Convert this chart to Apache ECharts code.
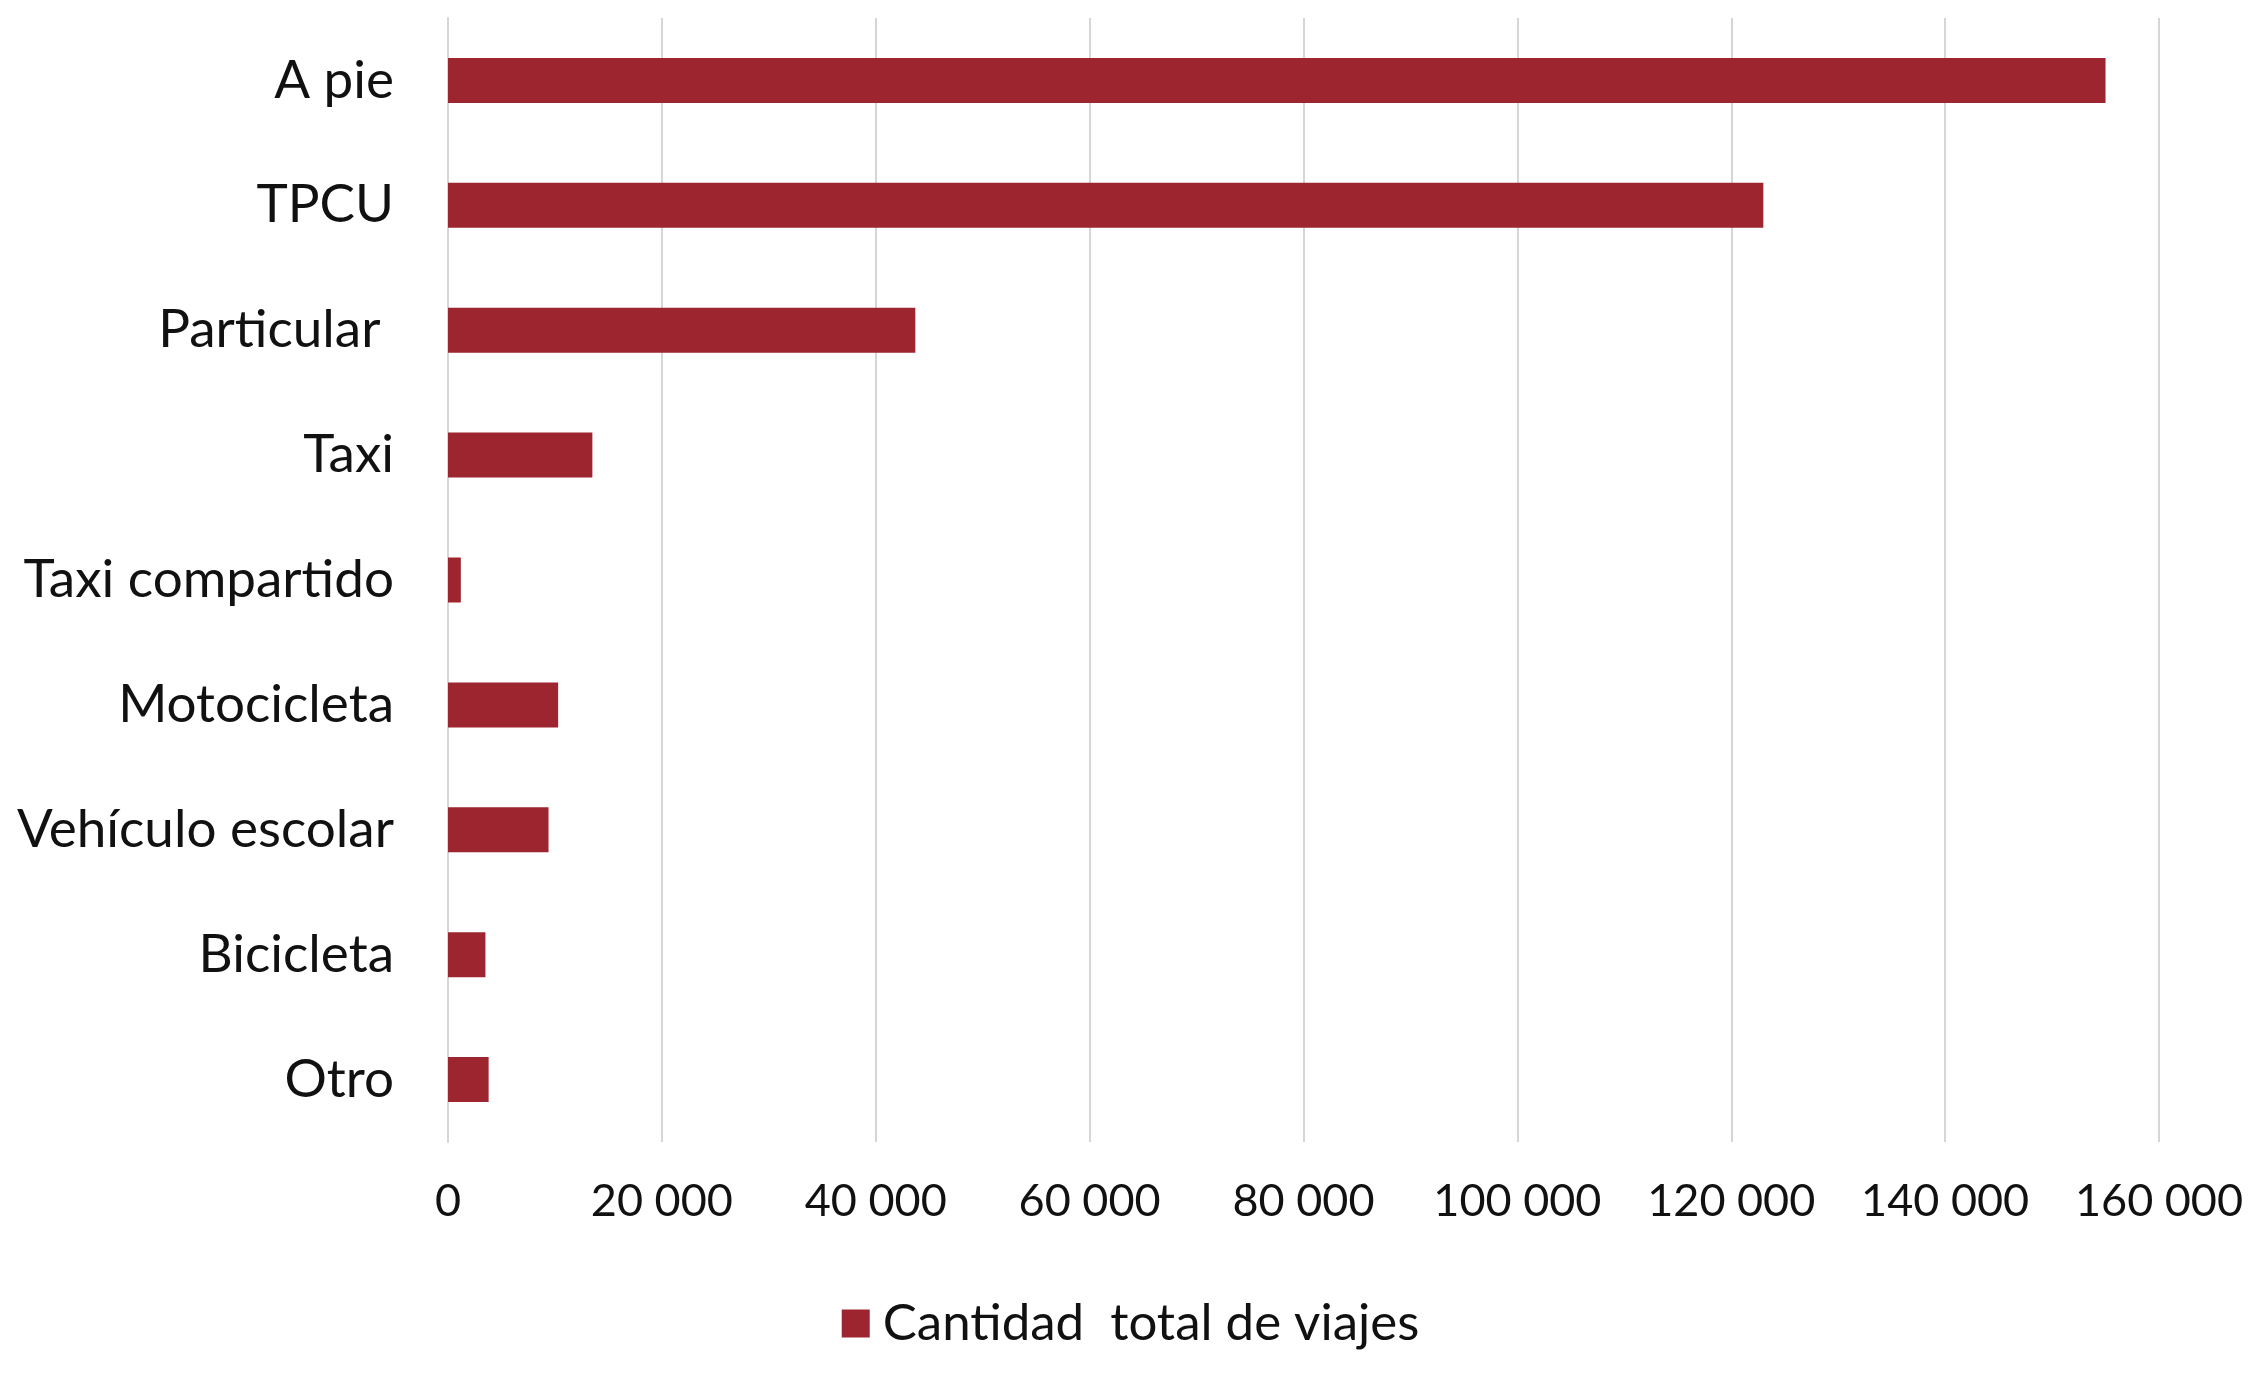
<!DOCTYPE html>
<html>
<head>
<meta charset="utf-8">
<script src="https://cdn.jsdelivr.net/npm/echarts@6/dist/echarts.min.js"></script>
<style>
html,body{margin:0;padding:0;background:#fff;}
#chart{width:2261px;height:1373px;}
</style>
</head>
<body>
<div id="chart"></div>
<script>
var categories = ["A pie", "TPCU", "Particular ", "Taxi", "Taxi compartido", "Motocicleta", "Vehículo escolar", "Bicicleta", "Otro"];
var viajes = [155000, 123000, 43700, 13500, 1200, 10300, 9400, 3500, 3800];
var seriesName = "Cantidad  total de viajes";
var xTicks = { min: 0, max: 160000, interval: 20000 };

function fmt(v) {
  return String(v).replace(/\B(?=(\d{3})+(?!\d))/g, " ");
}

var chart = echarts.init(document.getElementById('chart'));
chart.setOption({
  backgroundColor: '#ffffff',
  animation: false,
  textStyle: { fontFamily: 'Lato' },
  grid: { left: 448, right: 102, top: 18, bottom: 231, containLabel: false },
  legend: {
    data: [seriesName],
    left: 'center',
    top: 1293,
    icon: 'rect',
    itemWidth: 28,
    itemHeight: 28,
    itemGap: 10,
    textStyle: { fontSize: 51, color: '#111', fontFamily: 'Lato', padding: [0, 0, 0, 8] }
  },
  xAxis: {
    type: 'value',
    min: xTicks.min,
    max: xTicks.max,
    interval: xTicks.interval,
    axisLine: { show: false },
    axisTick: { show: false },
    splitLine: { show: true, lineStyle: { color: '#d6d6d6', width: 2 } },
    axisLabel: {
      margin: 37,
      fontSize: 45,
      color: '#111',
      fontFamily: 'Lato',
      formatter: fmt
    }
  },
  yAxis: {
    type: 'category',
    data: categories,
    inverse: true,
    axisLine: { show: true, lineStyle: { color: '#d6d6d6', width: 2 } },
    axisTick: { show: false },
    axisLabel: { margin: 54, fontSize: 53, color: '#111', fontFamily: 'Lato' }
  },
  series: [{
    name: seriesName,
    type: 'bar',
    data: viajes,
    barWidth: 45,
    itemStyle: { color: '#9c2530' }
  }]
});
</script>
</body>
</html>
